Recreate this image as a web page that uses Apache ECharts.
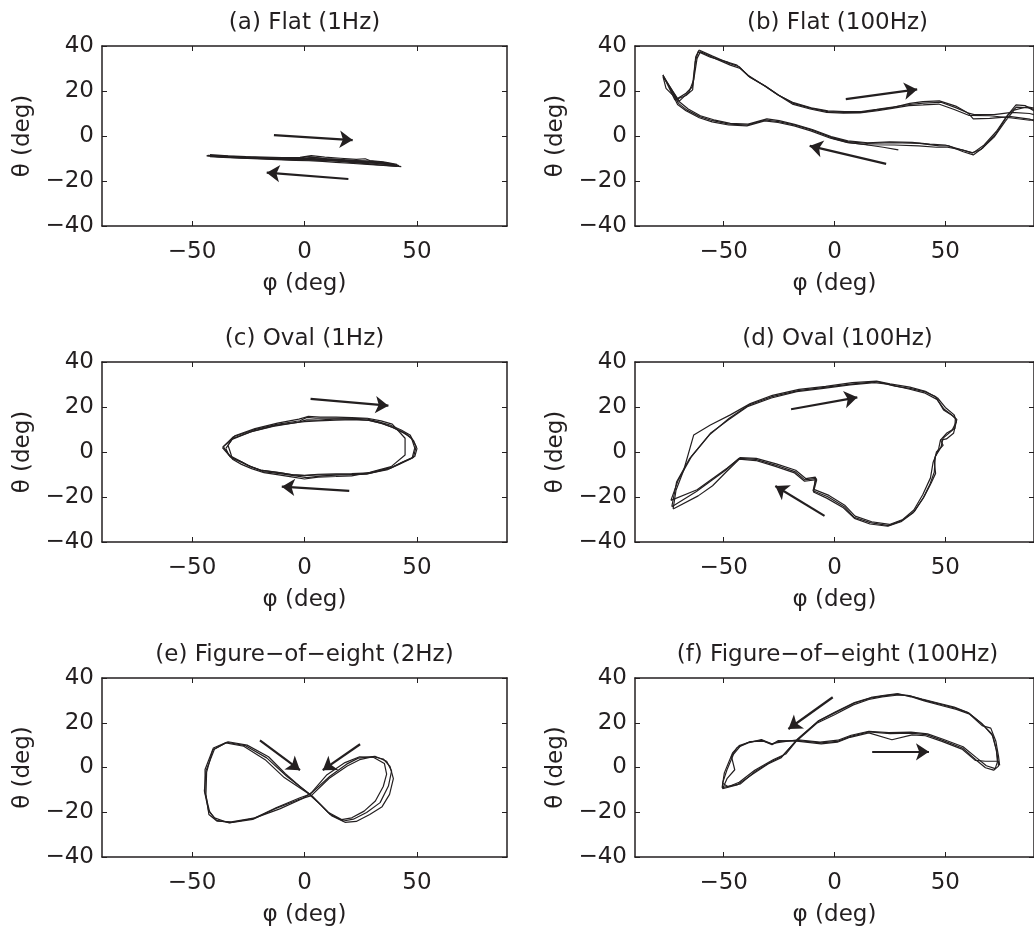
<!DOCTYPE html>
<html><head><meta charset="utf-8">
<script src="https://cdn.jsdelivr.net/npm/echarts@6/dist/echarts.min.js"></script>
<style>html,body{margin:0;padding:0;background:#fff}#c{width:1034px;height:928px}</style>
</head><body><div id="c"></div>
<script>
// ---- tick labels / text ----
const xTicks = [-50, 0, 50];
const yTicks = [-40, -20, 0, 20, 40];
const titles = ['(a) Flat (1Hz)', '(b) Flat (100Hz)', '(c) Oval (1Hz)', '(d) Oval (100Hz)',
  '(e) Figure\u2212of\u2212eight (2Hz)', '(f) Figure\u2212of\u2212eight (100Hz)'];
const xName = '\u03c6 (deg)';
const yName = '\u03b8 (deg)';

// ---- (a) Flat 1Hz : [phi, theta] ----
const flat1_c1 = [[-43,-8.6],[-36,-8.9],[-28,-9.3],[-20,-9.6],[-12,-9.9],[-4,-10],[2,-9.2],[8,-10],[15,-10.4],[22,-10.9],[28,-11.1],[34,-11.6],[38,-12.3],[42,-13.2],[36,-12.6],[30,-12],[24,-11.5],[18,-11.2],[12,-10.9],[6,-10.6],[0,-10.4],[-6,-10.3],[-14,-10.1],[-22,-9.8],[-30,-9.5],[-38,-9.2],[-43,-8.9]];
const flat1_c2 = [[-42,-8.3],[-34,-8.8],[-26,-9.2],[-18,-9.4],[-10,-9.6],[-2,-9.5],[3,-8.7],[9,-9.4],[16,-9.9],[23,-10.4],[27,-10.1],[29,-10.9],[35,-11.5],[41,-12.6],[41,-13.5],[35,-13.1],[28,-12.6],[20,-12.1],[14,-11.7],[8,-11.3],[2,-11],[-4,-10.8],[-12,-10.5],[-20,-10.2],[-28,-9.9],[-36,-9.5],[-42,-9.2]];
const flat1_c3 = [[-41,-8.7],[-33,-9.1],[-24,-9.5],[-16,-9.7],[-8,-9.8],[0,-9.9],[4,-9.5],[10,-10.1],[18,-10.6],[25,-11],[31,-11.4],[37,-12.1],[40,-12.9],[37,-12.4],[31,-11.8],[25,-11.3],[19,-11],[13,-10.7],[7,-10.4],[1,-10.2],[-7,-10.1],[-15,-9.9],[-23,-9.6],[-31,-9.3],[-39,-9],[-41,-8.7]];
const flat1_c4 = [[-43.5,-8.9],[-35,-9.3],[-27,-9.7],[-19,-10],[-11,-10.3],[-3,-10.4],[2,-9.8],[9,-10.5],[16,-11],[23,-11.5],[29,-11.9],[35,-12.3],[39,-12.9],[43,-13.6],[38,-13.2],[32,-12.7],[26,-12.2],[20,-11.7],[14,-11.2],[8,-10.9],[2,-10.7],[-5,-10.6],[-13,-10.3],[-21,-10],[-29,-9.7],[-37,-9.3],[-43.5,-8.9]];
const flat1_arrows = [[[-13.6,0.4],[21.4,-1.8]], [[19.5,-19.1],[-16.8,-16.3]]];

// ---- (b) Flat 100Hz ----
const flat100_c1 = [[-61.1,38.2],[-55,35.5],[-47.5,32.3],[-43,30.8],[-38.6,26.4],[-31.2,22.2],[-25.3,18.2],[-18.6,14.5],[-10.4,12.3],[-3,10.8],[4.4,10.5],[11.8,10.5],[19.2,11.6],[26.6,12.7],[34,14.5],[39.9,15.3],[47.3,15.6],[54.7,13.3],[60.4,10.1],[62.6,7.6],[70,7.8],[79.6,8.6],[88,7.5],[92,6],[92,10],[86,13.5],[81.9,13.8],[78.1,9.3],[73,1.2],[67,-5.2],[62.6,-8.4],[58.1,-7],[51.5,-4.4],[47.3,-4.4],[38.4,-3.3],[26.6,-3],[14.7,-3.3],[5.9,-2.5],[-1.6,-0.6],[-10.4,2.7],[-17.9,4.9],[-25.3,6.4],[-31.2,7.1],[-39.3,4.9],[-47.5,5.3],[-54.9,6.8],[-60.8,8.6],[-66.7,11.6],[-70.4,14.5],[-77.4,27.1],[-71,16.5],[-67,19],[-64.1,21.9],[-62.6,35.2],[-61.1,38.2]];
const flat100_c2 = [[-60.5,37.5],[-54,34.5],[-47,31.5],[-42.5,30],[-38,26],[-31,22],[-25,18],[-18.5,14.8],[-10.5,12.5],[-3,11.2],[4.5,10.8],[12,10.8],[19,11.8],[27,13],[34,14],[40,14.6],[48,15],[55,12.5],[60,10.3],[63,9.5],[72,9.5],[80,10.5],[88,10],[92,9],[92,11],[88,12.5],[82,12.8],[77.5,8.5],[73,2],[67.5,-4],[62.5,-7.5],[57,-6],[50,-4],[43,-3.6],[35,-2.8],[25,-2.6],[15,-3],[6,-2.2],[-1.5,-0.3],[-10,2.9],[-18,5.2],[-25,6.8],[-30.5,7.6],[-39,5.3],[-47,5.6],[-54.5,7.2],[-60.5,9],[-66,12],[-70,15.2],[-76,21.2],[-77.4,26.5],[-70,15.5],[-65.6,19.7],[-63.5,25],[-62,34.5],[-60.5,37.5]];
const flat100_c3 = [[-61.5,37.5],[-56,35],[-48,32.8],[-44,31.5],[-39,27],[-32,22.6],[-26,18.6],[-19,14.2],[-11,12],[-3.5,10.5],[4,10.2],[11.5,10.3],[19.5,11.3],[26,12.3],[33.5,13.5],[40,13.8],[47,14.2],[54,11.8],[60.5,9.2],[70,9],[80,8],[88,7],[92,7.5],[92,12],[87,13],[81,11.5],[77,6.5],[72,-0.5],[66,-6],[62,-7.5],[57.5,-6.2],[51,-5],[46,-5],[38,-4.4],[27,-4],[15,-3.9],[6,-3],[-1.8,-1],[-10.7,2.3],[-18.2,4.5],[-25.5,6],[-31.5,6.7],[-39.5,4.5],[-47.8,4.9],[-55.2,6.3],[-61,8.1],[-67,11.2],[-70.8,14],[-77.4,27.1],[-72,16],[-67,18],[-64,20.5],[-62.8,33],[-61.5,37.5]];
const flat100_c4 = [[-1.6,-0.8],[6,-2.8],[15,-4],[22,-5],[28.8,-6.2]];
const flat100_arrows = [[[5.1,16.4],[37.3,20.7]], [[23.3,-12.4],[-11.2,-4.4]]];

// ---- (c) Oval 1Hz ----
const oval1_c1 = [[-36.1,2.4],[-31.6,6.8],[-22.7,9.8],[-12.4,12.3],[-2,13.9],[1,15.4],[5,15],[12.8,15],[20,15],[27.6,14.7],[33,13.4],[38,12],[43,9.8],[46.9,7.6],[49.6,2.4],[48.4,-2.4],[43,-4.8],[38,-7.3],[27.6,-9.8],[20,-10.2],[15.8,-10.2],[8,-10.6],[1,-11.4],[-4,-10.6],[-9.4,-9.8],[-18.3,-8.7],[-23,-6.9],[-27.2,-5],[-33.1,-2.1],[-36.1,2.4]];
const oval1_c2 = [[-35,1.5],[-32,6],[-23,9.3],[-13,11.8],[-3,13.2],[1,14.3],[6,14.2],[13,14.6],[20,14.7],[28,14.2],[34,12.8],[39,11],[44,8.5],[47.5,6.3],[49,1.8],[47.8,-2.8],[42,-5.5],[37,-7.8],[28,-9.6],[20,-10],[12,-10.1],[6,-10.2],[0,-10.5],[-5,-10.2],[-10,-9.4],[-19,-8.2],[-24,-6.5],[-28,-4.4],[-32.5,-2.6],[-34,-0.5],[-35,1.5]];
const oval1_c3 = [[-34,3],[-31,7.2],[-22,10.4],[-12,12.8],[-2.5,14.6],[1.5,15.8],[7,15.5],[14,15.5],[21,15.3],[28,15],[34,13.8],[39,12.4],[44.7,6.1],[44.7,-1.3],[38.5,-6.5],[29,-9],[21,-10.6],[14,-10.9],[6,-11.2],[0,-12],[-5,-11.2],[-10,-10.4],[-18,-9.2],[-23.5,-7.4],[-28,-5.5],[-32,-3.2],[-33,0],[-34,3]];
const oval1_c4 = [[-36.5,2],[-32.5,5.5],[-24,8.9],[-14,11.4],[-4,13],[0,13.5],[6,13.8],[14,14.2],[22,14.4],[29,14],[35,12.5],[40,10.6],[45,8.2],[48.5,5],[50,1.5],[49,-2],[44,-4.2],[39,-6.7],[29,-9.3],[21,-9.6],[14,-9.7],[6,-9.9],[0,-10.4],[-6,-10],[-11,-9.2],[-19.5,-8],[-25,-6],[-29,-3.8],[-33.5,-1.5],[-36.5,2]];
const oval1_arrows = [[[2.7,23.6],[37.3,20.6]], [[19.9,-17.3],[-10.1,-15.4]]];

// ---- (d) Oval 100Hz ----
const oval100_c1 = [[-73.4,-24.3],[-71.2,-13.2],[-65.3,-2.8],[-56.4,7.6],[-47.5,15],[-38.6,20.9],[-28.2,24.6],[-16.4,27.3],[-4.5,28.7],[7.3,30.2],[19.2,31.3],[27.3,29.3],[34,28.3],[40.7,26.8],[45.6,24.6],[49.2,18.7],[53.5,16],[55.2,14.5],[53.7,8.3],[50.5,5.8],[47.8,5.3],[49,3],[46,0],[45,-4],[45.6,-9.5],[43.5,-14],[40.4,-19.9],[36,-26.5],[30.3,-30.5],[24.4,-32.7],[16.2,-31.4],[8.8,-29],[4.4,-24.3],[-3,-19.9],[-9.7,-17.2],[-8.2,-11.7],[-13.4,-12.4],[-17.9,-8.7],[-26.7,-5.8],[-35.6,-3.3],[-43,-2.8],[-49,-8],[-62.3,-17.6],[-73.4,-24.3]];
const oval100_c2 = [[-72.8,-25.3],[-71.5,-17],[-68,-8],[-63.5,7.6],[-56,12],[-47,16.5],[-38,21.5],[-28,25.2],[-16,27.8],[-4,29.2],[8,30.8],[19,31.5],[25,30.3],[34,28.8],[41,27],[46.5,24],[50,19.8],[54,16.5],[55,13.5],[53,9.5],[49,6.2],[48,2],[45.5,-2],[45,-9],[43,-14.5],[40,-20.5],[35.5,-27],[30,-31],[24,-33],[16,-32],[9,-29.5],[4,-24.8],[-3.5,-20.5],[-9.5,-17.8],[-8,-12.3],[-13.5,-13],[-18,-9.3],[-27,-6.3],[-35.5,-3.8],[-43,-3.2],[-49,-9],[-55,-15],[-61.5,-19.5],[-72.8,-25.3]];
const oval100_c3 = [[-73.8,-21.5],[-70.5,-12.5],[-64.5,-2],[-56,8.3],[-47.8,14.3],[-39,20.3],[-28.5,24],[-17,26.8],[-5,28.3],[7,29.8],[18,30.8],[24,30.2],[33.5,28],[40.5,26.3],[46.2,23.4],[49.5,19],[52.5,16.8],[54.5,14.8],[54.3,10.5],[50.5,8.3],[47.8,5.3],[47,1.5],[44.5,-4.5],[43.3,-11.5],[39.8,-19],[35.8,-25.8],[30.8,-30],[24.8,-32.2],[16.8,-31],[9.3,-28.5],[4.8,-23.8],[-2.5,-19.3],[-9.3,-16.6],[-8.6,-11.2],[-13,-11.8],[-17.5,-8.1],[-26.3,-5.3],[-35.3,-2.8],[-42.6,-2.5],[-48.5,-7.2],[-62,-16.8],[-73.8,-21.5]];
const oval100_arrows = [[[-19.6,19],[10.3,24.3]], [[-4.5,-28.4],[-26.7,-15.1]]];

// ---- (e) Figure-of-eight 2Hz ----
const eight2_c1 = [[-34.6,11.3],[-26.4,9.8],[-16.8,4.3],[-7.9,-3.9],[2.4,-12],[6.9,-16.4],[11.3,-20.9],[17.3,-23.9],[21.7,-23.1],[27.6,-20.1],[33.6,-15.7],[37.3,-8.3],[38.7,-1.6],[36.5,2.8],[31.3,5],[23.9,4.2],[18.7,1.5],[11.3,-3.9],[2.4,-12],[-2,-13.5],[-12.4,-17.9],[-22.7,-22.8],[-33.1,-24.6],[-39.1,-23.6],[-42.1,-20.1],[-44.2,-11.3],[-44.2,-0.9],[-40.5,8.7],[-34.6,11.3]];
const eight2_c2 = [[-34,11.5],[-25.5,10],[-16,4.8],[-8.5,-2.8],[-2,-8.5],[3.5,-12.8],[8,-17.5],[12,-21.5],[18,-24.5],[23,-24.1],[29,-21],[34.5,-17.5],[37.8,-12],[39.5,-5],[38,0.5],[35,3.8],[30.5,4.8],[24.5,3.5],[19,0.7],[11,-4.8],[3,-12.6],[-3,-14.5],[-13,-18.4],[-23,-23.2],[-33.5,-24.8],[-40,-22.5],[-42.7,-19],[-44.5,-10.5],[-43.8,-1.5],[-40,8.3],[-34,11.5]];
const eight2_c3 = [[-35,11],[-27,9.5],[-17.5,3.5],[-9,-4.5],[1.5,-11.5],[6,-15.5],[10.5,-20],[16.5,-23.3],[21,-22.5],[26.5,-19.5],[31.5,-15],[35,-8.5],[36.5,-3],[35.5,1.8],[30.8,4.5],[24.5,4.8],[18,2.2],[10,-3.2],[3,-11.3],[-1,-14],[-11,-18.5],[-22,-22.5],[-32.5,-24.3],[-38.8,-24],[-42.5,-21],[-43.8,-12],[-43.5,-2],[-40.8,7.8],[-35,11]];
const eight2_arrows = [[[-19.8,12.1],[-2,-1.2]], [[24.7,10.4],[8.1,-1.2]]];

// ---- (f) Figure-of-eight 100Hz ----
const eight100_c1 = [[28.1,32.7],[22.1,32],[16.2,31],[8.8,28.7],[-0.1,24.3],[-7.5,20.6],[-17.1,12.1],[-23.7,5],[-28.2,2.8],[-35.6,-1.6],[-42.4,-7.3],[-47.5,-8.3],[-50.7,-9],[-49.7,-2.4],[-46,6.5],[-43,9.8],[-38.6,11.3],[-32.7,12.1],[-28.2,10.2],[-25.3,11.7],[-17.1,12.1],[-6,11],[1.4,11.7],[7.3,13.9],[15.5,15.9],[25.1,15.1],[34,15.4],[41.4,14.7],[48.8,12.1],[57.7,8.7],[63.6,3.6],[68.1,-0.1],[71.8,-1.2],[74,0.6],[73.3,6.5],[71.5,14],[66.6,19.5],[60.7,24.3],[54.7,26.5],[48.8,28],[40,30.2],[34,32],[28.1,32.7]];
const eight100_c2 = [[28,32.3],[21.5,31.6],[15.5,30.4],[8.5,28],[0,23.6],[-8,19.8],[-17.5,11.5],[-22,6],[-27.5,3.6],[-36,-1.2],[-43,-6.6],[-48,-8.6],[-50.5,-7],[-48.5,-1],[-45.5,6],[-42.5,9.6],[-38,11.6],[-32,11.8],[-28.5,10.6],[-25,11.2],[-16.5,12.4],[-6.5,11.3],[1.5,12.2],[7.5,14.4],[15.5,16.2],[24.5,15.6],[34.5,15.8],[42,15],[49,12.6],[58,9.3],[64,4.4],[68.5,0.8],[72.5,-0.5],[73.5,2.5],[73,8],[71,15],[66,20],[60,24.7],[54,27],[48,28.5],[39.5,30.6],[33,32.3],[28,32.3]];
const eight100_c3 = [[28.5,33],[22.5,32.3],[16.5,31.3],[9,29],[0.3,24.8],[-7,21],[-16.8,12.6],[-24,4.4],[-30,1.6],[-37,-3],[-44,-7.8],[-50.5,-9.5],[-48.5,-5],[-45,-1],[-46.5,5],[-44,8.8],[-39,11],[-33,12.5],[-28,10.5],[-25.5,12],[-17,11.8],[-6,10.6],[1.3,11.3],[7,13.5],[15.5,15.5],[25.9,12.4],[35,14.6],[41,14.2],[48.5,11.7],[57.5,8.2],[63.5,3.2],[68.1,2.8],[73.7,2.8],[74.5,1],[74,5],[72.8,11.7],[70.5,17.6],[66.6,18.7],[61,23.8],[55,26],[49,27.5],[40.5,29.8],[34.5,31.6],[28.5,33]];
const eight100_arrows = [[[-0.8,31.4],[-20.8,17.2]], [[17,7],[42.6,7]]];

const panels = [
  {traces: [flat1_c1, flat1_c2, flat1_c3, flat1_c4], arrows: flat1_arrows},
  {traces: [flat100_c1, flat100_c2, flat100_c3, flat100_c4], arrows: flat100_arrows},
  {traces: [oval1_c1, oval1_c2, oval1_c3, oval1_c4], arrows: oval1_arrows},
  {traces: [oval100_c1, oval100_c2, oval100_c3], arrows: oval100_arrows},
  {traces: [eight2_c1, eight2_c2, eight2_c3], arrows: eight2_arrows},
  {traces: [eight100_c1, eight100_c2, eight100_c3], arrows: eight100_arrows}
];

// ---- layout ----
const INK = '#231f20';
const FONT = 'DejaVu Sans';
const FS = 23;
const colLeft = [102, 635];
const rowTop = [46, 362, 678];
const GW = 405, GH = 180;
const minusFmt = v => String(v).replace('-', '\u2212');

const grid = [], xAxis = [], yAxis = [], series = [], title = [];
panels.forEach((p, i) => {
  const col = i % 2, row = Math.floor(i / 2);
  const L = colLeft[col], T = rowTop[row];
  grid.push({left: L, top: T, width: GW, height: GH, containLabel: false});
  title.push({text: titles[i], left: L + GW / 2, top: T - 34, textAlign: 'center', padding: 0,
    textStyle: {fontFamily: FONT, fontSize: FS, fontWeight: 'normal', color: INK}});
  const line = {show: true, onZero: false, lineStyle: {color: INK, width: 1.5}};
  const tick = (vals) => ({show: true, inside: true, length: 5, customValues: vals, lineStyle: {color: INK, width: 1}});
  xAxis.push({gridIndex: i, type: 'value', position: 'bottom', min: -90, max: 90,
    axisLine: line, axisTick: tick(xTicks), splitLine: {show: false},
    axisLabel: {customValues: xTicks, formatter: minusFmt, fontFamily: FONT, fontSize: FS, color: INK, margin: 15},
    name: xName, nameLocation: 'middle', nameGap: 47,
    nameTextStyle: {fontFamily: FONT, fontSize: FS, color: INK}});
  xAxis.push({gridIndex: i, type: 'value', position: 'top', min: -90, max: 90,
    axisLine: line, axisTick: tick(xTicks), splitLine: {show: false}, axisLabel: {show: false}});
  yAxis.push({gridIndex: i, type: 'value', position: 'left', min: -40, max: 40,
    axisLine: line, axisTick: tick(yTicks), splitLine: {show: false},
    axisLabel: {customValues: yTicks, formatter: minusFmt, fontFamily: FONT, fontSize: FS, color: INK, margin: 8},
    name: yName, nameLocation: 'middle', nameGap: 67,
    nameTextStyle: {fontFamily: FONT, fontSize: FS, color: INK}});
  yAxis.push({gridIndex: i, type: 'value', position: 'right', min: -40, max: 40,
    axisLine: line, axisTick: tick(yTicks), splitLine: {show: false}, axisLabel: {show: false}});
  p.traces.forEach(tr => {
    series.push({type: 'line', xAxisIndex: 2 * i, yAxisIndex: 2 * i, data: tr,
      symbol: 'none', showSymbol: false, silent: true, clip: true,
      lineStyle: {color: INK, width: 1.2}});
  });
  series.push({type: 'lines', coordinateSystem: 'cartesian2d', xAxisIndex: 2 * i, yAxisIndex: 2 * i,
    symbol: ['none', 'arrow'], symbolSize: 13, silent: true,
    lineStyle: {color: INK, width: 2.2, opacity: 1, curveness: 0},
    data: p.arrows.map(a => ({coords: a}))});
});

const chart = echarts.init(document.getElementById('c'), null, {renderer: 'canvas'});
chart.setOption({animation: false, backgroundColor: '#fff', title, grid, xAxis, yAxis, series});
</script></body></html>
